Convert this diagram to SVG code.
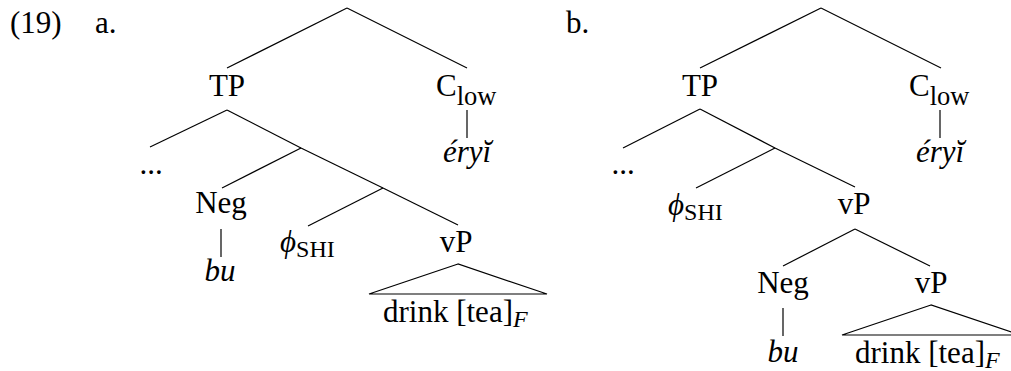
<svg xmlns="http://www.w3.org/2000/svg" width="1011" height="371" viewBox="0 0 1011 371" font-family="Liberation Serif, Times New Roman, serif" font-size="31">
<style>
.m{text-anchor:middle}
.i{font-style:italic}
.sub{font-size:26.5px}
.sc{font-size:24px}
.conn line,.conn polygon{stroke:#000;stroke-width:1.2;fill:none}
</style>
<rect width="1011" height="371" fill="#fff"/>
<g id="labels">
<text x="10" y="33">(19)</text>
<text x="95" y="33">a.</text>
<text x="566" y="33">b.</text>
</g>
<g class="conn" id="connectors">
<line x1="347" y1="8" x2="227" y2="68"/>
<line x1="347" y1="8" x2="467" y2="68"/>
<line x1="467" y1="110" x2="467" y2="138"/>
<line x1="227" y1="110" x2="150" y2="147"/>
<line x1="227" y1="110" x2="301" y2="148"/>
<line x1="301" y1="148" x2="222" y2="188"/>
<line x1="301" y1="148" x2="383" y2="188"/>
<line x1="383" y1="188" x2="308" y2="226"/>
<line x1="383" y1="188" x2="458" y2="225"/>
<line x1="221" y1="229" x2="221" y2="257"/>
<polygon points="458,264 369,294 547,294"/>
<line x1="821" y1="8" x2="700" y2="68"/>
<line x1="821" y1="8" x2="941" y2="68"/>
<line x1="940" y1="110" x2="940" y2="138"/>
<line x1="700" y1="109" x2="623" y2="148"/>
<line x1="700" y1="109" x2="775" y2="148"/>
<line x1="775" y1="148" x2="696" y2="188"/>
<line x1="775" y1="148" x2="855" y2="187"/>
<line x1="855" y1="229" x2="783" y2="266"/>
<line x1="855" y1="229" x2="930" y2="266"/>
<line x1="783" y1="308" x2="783" y2="336"/>
<polygon points="931,305 842,335 1020,335"/>
</g>
<g id="a-TP"><text class="m" x="227" y="96">TP</text></g>
<g id="a-Clow"><text x="436" y="96">C<tspan class="sub" dy="9">low</tspan></text></g>
<g id="a-eryi"><text class="m i" x="467" y="162">éryĭ</text></g>
<g id="a-dots"><text class="m" x="151" y="174">...</text></g>
<g id="a-Neg"><text class="m" x="221" y="213">Neg</text></g>
<g id="a-bu"><text class="m i" x="220" y="281">bu</text></g>
<g id="a-phi"><text x="280" y="252"><tspan class="i">ϕ</tspan><tspan class="sc" dy="5">SHI</tspan></text></g>
<g id="a-vP"><text class="m" x="456" y="252">vP</text></g>
<g id="a-drink"><text x="383" y="322">drink [tea]<tspan class="i sc" dy="5">F</tspan></text></g>
<g id="b-TP"><text class="m" x="700" y="96">TP</text></g>
<g id="b-Clow"><text x="909" y="96">C<tspan class="sub" dy="9">low</tspan></text></g>
<g id="b-eryi"><text class="m i" x="940" y="162">éryĭ</text></g>
<g id="b-dots"><text class="m" x="623" y="174">...</text></g>
<g id="b-phi"><text x="668" y="215"><tspan class="i">ϕ</tspan><tspan class="sc" dy="5">SHI</tspan></text></g>
<g id="b-vP1"><text class="m" x="854" y="214">vP</text></g>
<g id="b-Neg"><text class="m" x="783" y="293">Neg</text></g>
<g id="b-bu"><text class="m i" x="783" y="362">bu</text></g>
<g id="b-vP2"><text class="m" x="931" y="293">vP</text></g>
<g id="b-drink"><text x="855" y="363">drink [tea]<tspan class="i sc" dy="5">F</tspan></text></g>
</svg>
